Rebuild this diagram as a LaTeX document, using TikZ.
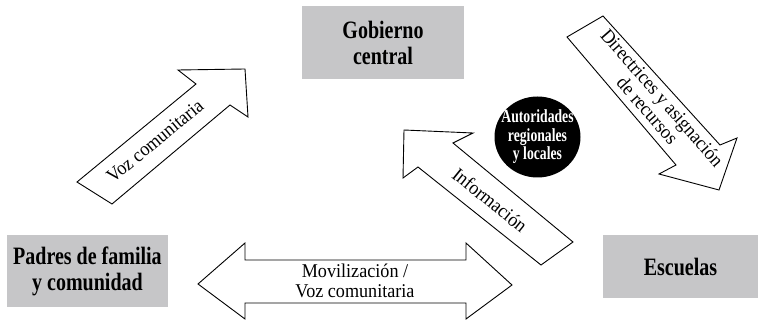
\documentclass[tikz,border=0pt]{standalone}
\usepackage{fontspec}
\setmainfont{Liberation Serif}
\newfontfamily\bcond[FakeStretch=0.8]{Liberation Serif}
\newfontfamily\ecnd[FakeStretch=0.74]{Liberation Serif}
\newfontfamily\rcond[FakeStretch=0.93]{Liberation Serif}
\usetikzlibrary{shapes.geometric}
\definecolor{boxgray}{RGB}{198,198,200}
\tikzset{
  gbox/.style={fill=boxgray, inner sep=0pt, align=center, font=\bcond\bfseries\fontsize{25}{26}\selectfont},
  blockarrow/.style={draw=black, fill=white, line width=0.9pt, line join=miter},
  atext/.style={inner sep=0pt, align=center, font=\rcond\fontsize{19.5}{19.5}\selectfont},
  authshape/.style={ellipse, fill=black, inner sep=0pt},
  authtext/.style={text=white, inner sep=0pt, align=center, font=\ecnd\bfseries\fontsize{18.5}{18.5}\selectfont}
}
\begin{document}
\begin{tikzpicture}[x=1pt,y=-1pt]
\useasboundingbox (0,0) rectangle (758,320);
% boxes
\node[gbox, minimum width=162pt, minimum height=73pt] (gob) at (383,42.5) {Gobierno\\central};
\node[gbox, minimum width=161pt, minimum height=72pt] (padres) at (87.5,271) {Padres de familia\\y comunidad};
\node[gbox, minimum width=155pt, minimum height=63pt] (esc) at (680.5,266.5) {Escuelas};
\node[authshape, minimum width=86pt, minimum height=81pt] (auth) at (537.5,137) {};
\node[authtext] (authlabel) at (auth.center) {Autoridades\\regionales\\y locales};
% block arrows
\draw[blockarrow] (77,182) -- (196,84) -- (178,70) -- (245,69) -- (248,117) -- (230,105) -- (112,204) -- cycle;
\draw[blockarrow] (404,130) -- (473,133) -- (453,143) -- (573,242) -- (541,265) -- (418,167) -- (403,178) -- cycle;
\draw[blockarrow] (567,37) -- (603,16) -- (720,145) -- (737,138) -- (719,190) -- (659,174) -- (676,165) -- cycle;
\draw[blockarrow] (198,284) -- (245,243) -- (245,260) -- (466,260) -- (466,243) -- (512,285) -- (466,319) -- (466,303) -- (245,303) -- (245,319) -- cycle;
% arrow labels
\node[atext, rotate=39.5] (voz) at (155,141) {Voz comunitaria};
\node[atext, rotate=-39] (info) at (490,200) {Información};
\node[atext, rotate=-48.8] (dir) at (655,104) {Directrices y asignación\\de recursos};
\node[atext] (mov) at (355,281) {Movilización /\\Voz comunitaria};
\end{tikzpicture}
\end{document}
